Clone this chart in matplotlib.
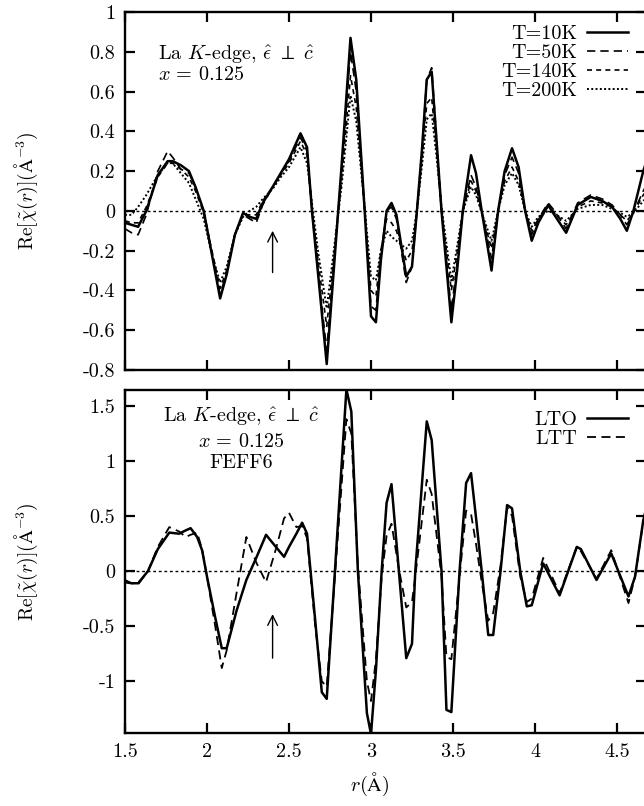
import matplotlib
matplotlib.use("Agg")
import matplotlib.pyplot as plt

plt.rcParams['font.family'] = ['cmr10', 'DejaVu Serif']
plt.rcParams['mathtext.fontset'] = 'cm'
plt.rcParams['axes.unicode_minus'] = False

# ---------------- data: top panel (experiment, several temperatures) ----------------
r_top = [1.50, 1.54, 1.58, 1.63, 1.70, 1.76, 1.79, 1.84, 1.89, 1.93, 1.98, 2.03, 2.08, 2.12,
         2.17, 2.22, 2.26, 2.30, 2.34, 2.40, 2.45, 2.50, 2.57, 2.61, 2.64, 2.68, 2.73, 2.77,
         2.82, 2.875, 2.91, 2.96, 3.00, 3.03, 3.06, 3.095, 3.125, 3.155, 3.215, 3.25, 3.28,
         3.31, 3.34, 3.37, 3.40, 3.43, 3.49, 3.525, 3.56, 3.61, 3.64, 3.675, 3.735, 3.775,
         3.815, 3.86, 3.90, 3.94, 3.98, 4.02, 4.08, 4.11, 4.19, 4.26, 4.34, 4.41, 4.47, 4.52,
         4.56, 4.60, 4.66, 4.70]
t10 = [-0.06, -0.07, -0.08, 0.00, 0.18, 0.25, 0.25, 0.23, 0.20, 0.12, 0.00, -0.22, -0.44, -0.32,
       -0.12, -0.01, -0.03, -0.04, 0.04, 0.12, 0.19, 0.26, 0.39, 0.32, 0.00, -0.34, -0.77, -0.33,
       0.22, 0.87, 0.66, 0.02, -0.53, -0.56, -0.25, 0.00, 0.04, -0.02, -0.33, -0.28, 0.00,
       0.30, 0.66, 0.70, 0.35, 0.00, -0.56, -0.30, 0.00, 0.28, 0.19, 0.00, -0.30, 0.00,
       0.20, 0.315, 0.22, 0.00, -0.15, -0.06, 0.03, -0.01, -0.11, 0.03, 0.07, 0.05, 0.02, -0.04,
       -0.10, 0.00, 0.20, 0.30]
t50 = [-0.09, -0.11, -0.12, -0.02, 0.20, 0.30, 0.27, 0.21, 0.19, 0.12, 0.00, -0.21, -0.42, -0.31,
       -0.12, -0.02, -0.04, -0.06, 0.03, 0.12, 0.19, 0.25, 0.37, 0.30, 0.00, -0.33, -0.70, -0.30,
       0.20, 0.80, 0.60, 0.02, -0.48, -0.50, -0.22, 0.00, 0.02, -0.04, -0.36, -0.28, 0.00,
       0.30, 0.66, 0.72, 0.36, 0.00, -0.50, -0.26, 0.00, 0.18, 0.12, 0.00, -0.24, 0.00,
       0.18, 0.27, 0.19, 0.00, -0.12, -0.04, 0.04, 0.01, -0.09, 0.04, 0.08, 0.06, 0.03, -0.02,
       -0.07, -0.01, 0.10, 0.16]
t140 = [-0.05, -0.06, -0.06, 0.02, 0.17, 0.24, 0.24, 0.21, 0.17, 0.10, -0.01, -0.20, -0.39, -0.30,
        -0.12, -0.02, -0.02, -0.02, 0.05, 0.12, 0.18, 0.24, 0.35, 0.28, 0.02, -0.27, -0.58, -0.26,
        0.15, 0.68, 0.52, 0.02, -0.40, -0.43, -0.20, -0.04, -0.06, -0.10, -0.25, -0.20, 0.00,
        0.25, 0.54, 0.57, 0.30, 0.00, -0.40, -0.21, 0.00, 0.15, 0.10, -0.01, -0.19, 0.00,
        0.15, 0.22, 0.15, 0.00, -0.10, -0.04, 0.02, 0.00, -0.07, 0.02, 0.05, 0.04, 0.02, -0.02,
        -0.05, -0.01, 0.08, 0.12]
t200 = [-0.02, -0.02, 0.02, 0.08, 0.18, 0.24, 0.24, 0.19, 0.14, 0.06, -0.04, -0.22, -0.36, -0.28,
        -0.12, -0.03, 0.00, 0.02, 0.06, 0.11, 0.17, 0.22, 0.32, 0.24, 0.04, -0.22, -0.49, -0.22,
        0.12, 0.58, 0.45, 0.03, -0.33, -0.35, -0.20, -0.10, -0.13, -0.15, -0.19, -0.15, 0.00,
        0.22, 0.46, 0.49, 0.27, 0.02, -0.35, -0.18, 0.00, 0.12, 0.08, -0.01, -0.15, 0.00,
        0.13, 0.19, 0.13, 0.00, -0.08, -0.03, 0.00, -0.01, -0.05, 0.01, 0.03, 0.03, 0.01, -0.01,
        -0.03, -0.01, 0.05, 0.08]
top_labels = ['T=10K', 'T=50K', 'T=140K', 'T=200K']

# ---------------- data: bottom panel (FEFF6 calculations) ----------------
r_bot = [1.50, 1.54, 1.58, 1.64, 1.70, 1.77, 1.83, 1.87, 1.90, 1.94, 1.97, 2.00, 2.05, 2.09,
         2.12, 2.18, 2.24, 2.30, 2.36, 2.42, 2.47, 2.50, 2.545, 2.58, 2.61, 2.66, 2.70, 2.73,
         2.78, 2.85, 2.88, 2.92, 2.975, 3.00, 3.03, 3.065, 3.095, 3.125, 3.17, 3.215, 3.25,
         3.27, 3.34, 3.37, 3.43, 3.46, 3.49, 3.54, 3.58, 3.61, 3.64, 3.675, 3.715, 3.745, 3.79,
         3.83, 3.86, 3.91, 3.95, 3.98, 4.05, 4.15, 4.255, 4.28, 4.375, 4.465, 4.57, 4.61, 4.66,
         4.70]
lto = [-0.10, -0.11, -0.11, 0.00, 0.20, 0.35, 0.34, 0.37, 0.39, 0.31, 0.19, -0.05, -0.42, -0.70,
       -0.70, -0.36, -0.08, 0.12, 0.33, 0.22, 0.13, 0.22, 0.34, 0.44, 0.34, -0.45, -1.10, -1.16,
       0.00, 1.65, 1.45, 0.00, -1.29, -1.48, -0.90, 0.00, 0.62, 0.79, 0.00, -0.79, -0.66,
       0.00, 1.36, 1.19, 0.00, -1.26, -1.28, 0.00, 0.80, 0.89, 0.49, 0.00, -0.58, -0.58, 0.00,
       0.60, 0.57, 0.00, -0.32, -0.31, 0.07, -0.22, 0.22, 0.20, -0.08, 0.16, -0.23, -0.05, 0.46,
       0.70]
ltt = [-0.08, -0.11, -0.12, 0.00, 0.22, 0.40, 0.36, 0.31, 0.33, 0.35, 0.20, -0.05, -0.50, -0.88,
       -0.72, -0.20, 0.31, 0.08, -0.10, 0.20, 0.48, 0.53, 0.40, 0.41, 0.30, -0.50, -1.00, -1.05,
       -0.05, 1.38, 1.25, 0.05, -1.00, -1.18, -0.80, -0.05, 0.32, 0.43, 0.02, -0.33, -0.28,
       -0.05, 0.83, 0.70, -0.05, -0.78, -0.80, -0.05, 0.55, 0.52, 0.25, -0.10, -0.45, -0.38, 0.05,
       0.58, 0.50, -0.05, -0.28, -0.25, 0.12, -0.20, 0.22, 0.18, -0.07, 0.19, -0.29, -0.05, 0.45,
       0.68]
bot_labels = ['LTO', 'LTT']

x_ticks = [1.5, 2.0, 2.5, 3.0, 3.5, 4.0, 4.5]
x_ticklabels = ['1.5', '2', '2.5', '3', '3.5', '4', '4.5']
top_yticks = [-0.8, -0.6, -0.4, -0.2, 0.0, 0.2, 0.4, 0.6, 0.8, 1.0]
top_yticklabels = ['-0.8', '-0.6', '-0.4', '-0.2', '0', '0.2', '0.4', '0.6', '0.8', '1']
bot_yticks = [-1.0, -0.5, 0.0, 0.5, 1.0, 1.5]
bot_yticklabels = ['-1', '-0.5', '0', '0.5', '1', '1.5']

# ---------------- figure ----------------
W, H = 644, 806
fig = plt.figure(figsize=(W / 100, H / 100), dpi=100)

def px_axes(x0, y0, x1, y1):
    return fig.add_axes([x0 / W, 1 - y1 / H, (x1 - x0) / W, (y1 - y0) / H])

ax1 = px_axes(125, 12, 646, 370)
ax2 = px_axes(125, 390, 646, 733)

xlim = (1.5, 1.5 + 521 / 164)
fs_tick = 14.5
fs_text = 14.5
fs_leg = 14.5

ylabel = r'Re[$\tilde{\chi}(r)$]($\mathrm{\AA}^{-3}$)'

for ax in (ax1, ax2):
    ax.set_xlim(*xlim)
    for s in ax.spines.values():
        s.set_linewidth(1.7)
    ax.tick_params(direction='in', length=7, width=1.6, top=True, right=True,
                   labelsize=fs_tick, pad=7)
    ax.set_xticks(x_ticks)
    ax.axhline(0, color='black', lw=1.0, ls=(0, (2, 2)), zorder=1)
    ax.set_ylabel(ylabel, fontsize=14)
    ax.yaxis.set_label_coords(-0.163, 0.5)

leg_kw = dict(loc='upper right', frameon=False, markerfirst=False, handlelength=2.0,
              handletextpad=0.5, labelspacing=0.05, fontsize=fs_leg, borderaxespad=0,
              borderpad=0)

# top panel
ax1.set_ylim(-0.8, 1.0)
ax1.set_yticks(top_yticks, labels=top_yticklabels)
ax1.set_xticklabels([])
styles_top = [dict(ls='-', lw=1.8), dict(ls=(0, (5, 3)), lw=1.2),
              dict(ls=(0, (3, 2.5)), lw=1.2), dict(ls=(0, (1, 1.2)), lw=1.4)]
for ys, lab, st in zip([t10, t50, t140, t200], top_labels, styles_top):
    ax1.plot(r_top, ys, color='black', label=lab, **st)
ax1.legend(bbox_to_anchor=(0.965, 0.964), **leg_kw)
ax1.text(0.063, 0.882, r'La $K$-edge, $\hat{\epsilon}\ \perp\ \hat{c}$', transform=ax1.transAxes,
         fontsize=fs_text, ha='left', va='center')
ax1.text(0.063, 0.824, r'$x\,=\,0.125$', transform=ax1.transAxes,
         fontsize=fs_text, ha='left', va='center')
ax1.annotate('', xy=(2.4, -0.10), xytext=(2.4, -0.31),
             arrowprops=dict(arrowstyle='->,head_length=0.7,head_width=0.35', lw=1.0,
                             color='black', shrinkA=0, shrinkB=0))

# bottom panel
ax2.set_ylim(-1.47, 1.645)
ax2.set_yticks(bot_yticks, labels=bot_yticklabels)
ax2.set_xticklabels(x_ticklabels)
styles_bot = [dict(ls='-', lw=1.8), dict(ls=(0, (5, 3)), lw=1.3)]
for ys, lab, st in zip([lto, ltt], bot_labels, styles_bot):
    ax2.plot(r_bot, ys, color='black', label=lab, **st)
ax2.legend(bbox_to_anchor=(0.965, 0.94), **leg_kw)
ax2.text(0.223, 0.921, r'La $K$-edge, $\hat{\epsilon}\ \perp\ \hat{c}$', transform=ax2.transAxes,
         fontsize=fs_text, ha='center', va='center')
ax2.text(0.223, 0.848, r'$x\,=\,0.125$', transform=ax2.transAxes,
         fontsize=fs_text, ha='center', va='center')
ax2.text(0.223, 0.788, 'FEFF6', transform=ax2.transAxes,
         fontsize=fs_text, ha='center', va='center')
ax2.annotate('', xy=(2.4, -0.39), xytext=(2.4, -0.79),
             arrowprops=dict(arrowstyle='->,head_length=0.7,head_width=0.35', lw=1.0,
                             color='black', shrinkA=0, shrinkB=0))
ax2.set_xlabel(r'$r(\mathrm{\AA})$', fontsize=14.5)
ax2.xaxis.set_label_coords(0.47, -0.11)

fig.savefig('out.png', dpi=100)
